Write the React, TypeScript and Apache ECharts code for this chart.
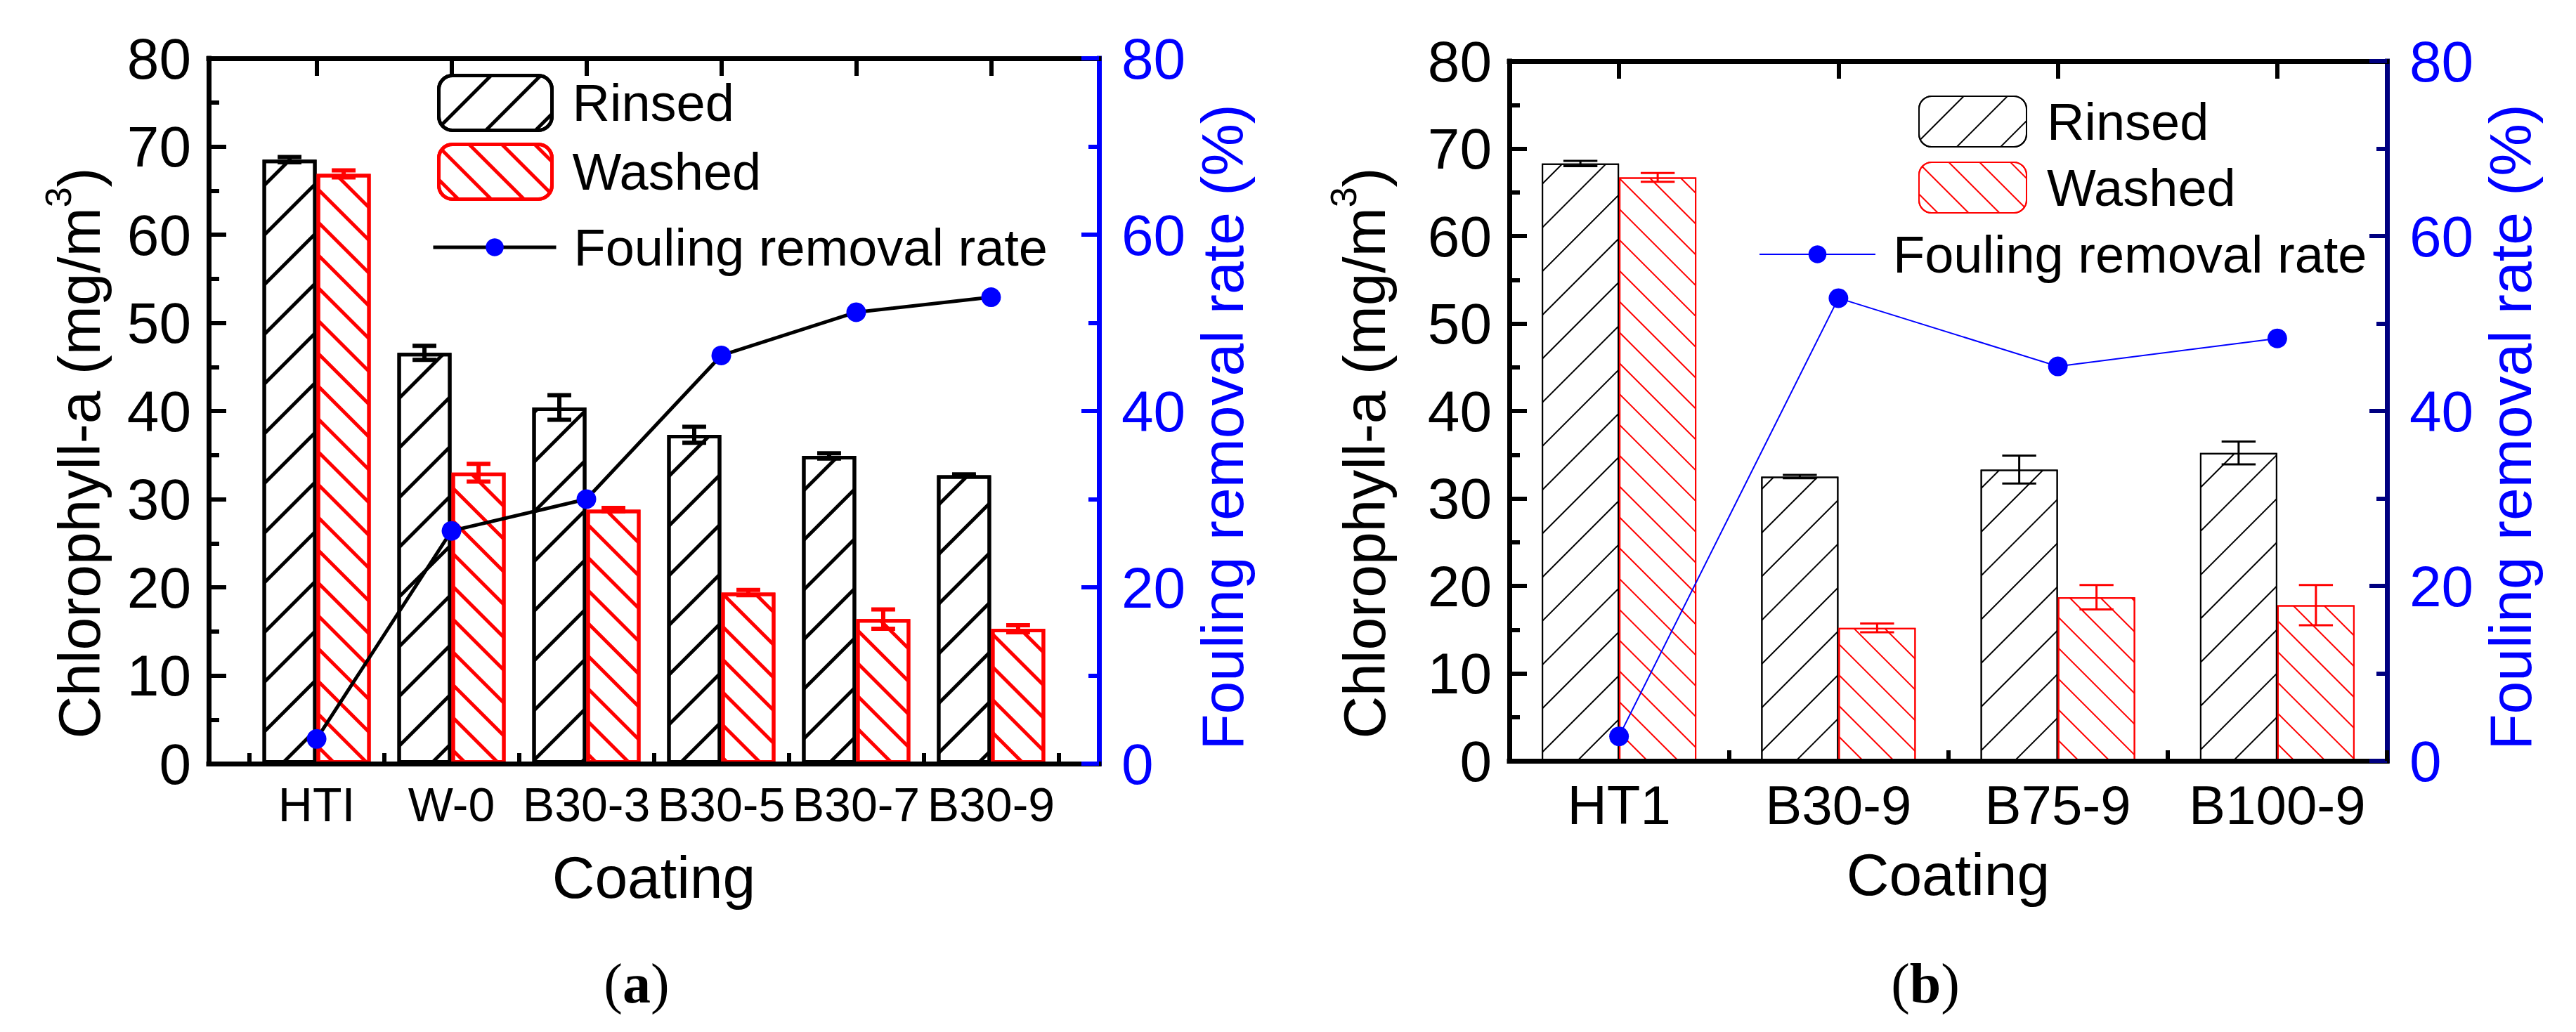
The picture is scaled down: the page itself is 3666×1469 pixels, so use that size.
import { useEffect, useRef } from 'react';
import * as echarts from 'echarts';

// panel (a)
const categoriesA = ['HTI', 'W-0', 'B30-3', 'B30-5', 'B30-7', 'B30-9'];
const rinsedA = [68.5, 46.6, 40.4, 37.3, 34.9, 32.7];
const rinsedErrA = [0.3, 0.8, 1.4, 0.9, 0.3, 0.1];
const washedA = [66.9, 33.0, 28.8, 19.4, 16.4, 15.3];
const washedErrA = [0.4, 1.0, 0.2, 0.3, 1.1, 0.4];
const rateA = [2.8, 26.4, 30.0, 46.3, 51.2, 52.9];

// panel (b)
const categoriesB = ['HT1', 'B30-9', 'B75-9', 'B100-9'];
const rinsedB = [68.3, 32.5, 33.3, 35.2];
const rinsedErrB = [0.3, 0.2, 1.6, 1.3];
const washedB = [66.7, 15.2, 18.7, 17.8];
const washedErrB = [0.5, 0.5, 1.4, 2.3];
const rateB = [2.8, 52.9, 45.1, 48.3];

const FONT = 'Liberation Sans, Arial, sans-serif';
const RED = '#FF0000';
const BLUE = '#0000FF';

interface Layout {
  left: number;
  top: number;
  width: number;
  height: number;
  pad: number; // extra category steps outside the half-step padding
  barWidth: number;
  border: number;
  hatchBlack: [number, number];
  hatchRed: [number, number];
  lineColor: string;
  lineWidth: number;
  rightAxisColor: string;
  catFont: number;
  leftNameGap: number;
  rightNameGap: number;
  legendLeft: number;
  legendTop: number;
  legendW: number;
  legendH: number;
  legendGap: number;
  lineLegendLeft: number;
  lineLegendY: number;
  lineLegendW: number;
  tagX: number;
}

interface Props {
  tag: string;
  categories: string[];
  rinsed: number[];
  rinsedErr: number[];
  washed: number[];
  washedErr: number[];
  rate: number[];
  layout: Layout;
}

function Panel({ tag, categories, rinsed, rinsedErr, washed, washedErr, rate, layout: L }: Props) {
  const chartRef = useRef<HTMLDivElement>(null);

  useEffect(() => {
    if (!chartRef.current) return;
    const chart = echarts.init(chartRef.current, null, { renderer: 'svg' });

    const n = categories.length;
    const step = L.width / (n + 2 * L.pad);
    const inset = L.pad * step;

    const hatch = (color: string, [lw, gap]: [number, number], rot: number) => ({
      symbol: 'rect',
      symbolSize: 1,
      dashArrayX: [1, 0],
      dashArrayY: [lw, gap],
      rotation: rot,
      color,
      backgroundColor: '#fff',
    });

    const errSeries = (vals: number[], errs: number[], color: string, offset: number) => ({
      type: 'custom',
      xAxisIndex: 2,
      yAxisIndex: 2,
      z: 4,
      silent: true,
      encode: { x: 0, y: [1, 2] },
      data: vals.map((v, i) => [i, v - errs[i], v + errs[i]]),
      renderItem: (_p: any, api: any) => {
        const lo = api.coord([api.value(0), api.value(1)]);
        const hi = api.coord([api.value(0), api.value(2)]);
        const cx = lo[0] + offset;
        const half = L.barWidth * 0.22;
        const style = { stroke: color, lineWidth: L.border + 1 };
        return {
          type: 'group',
          children: [
            { type: 'line', shape: { x1: cx, y1: hi[1], x2: cx, y2: lo[1] }, style },
            { type: 'line', shape: { x1: cx - half, y1: hi[1], x2: cx + half, y2: hi[1] }, style },
            { type: 'line', shape: { x1: cx - half, y1: lo[1], x2: cx + half, y2: lo[1] }, style },
          ],
        };
      },
    });

    const frameLine = () => ({ show: true, onZero: false, lineStyle: { color: '#000', width: 7, cap: 'square' } });
    const tickFont = { fontFamily: FONT, fontSize: 82, color: '#000' };
    const legendText = (padLeft: number) => ({
      fontFamily: FONT,
      fontSize: 74,
      lineHeight: 74,
      color: '#000',
      padding: [0, 0, 0, padLeft],
    });

    chart.setOption({
      animation: false,
      grid: [
        { left: L.left, top: L.top, width: L.width, height: L.height },
        { left: L.left + inset, top: L.top, width: L.width - 2 * inset, height: L.height },
      ],
      legend: [
        {
          data: ['Rinsed', 'Washed'],
          orient: 'vertical',
          left: L.legendLeft,
          top: L.legendTop,
          padding: 0,
          itemWidth: L.legendW,
          itemHeight: L.legendH,
          itemGap: L.legendGap,
          selectedMode: false,
          itemStyle: { borderWidth: L.border },
          textStyle: legendText(24),
        },
        {
          data: ['Fouling removal rate'],
          left: L.lineLegendLeft,
          top: L.lineLegendY - 37,
          padding: 0,
          itemWidth: L.lineLegendW,
          itemHeight: 32,
          selectedMode: false,
          lineStyle: { width: L.lineWidth, color: L.lineColor },
          textStyle: legendText(20),
        },
      ],
      xAxis: [
        {
          gridIndex: 0,
          type: 'value',
          min: 0,
          max: 1,
          z: 10,
          axisLine: frameLine(),
          axisTick: { show: false },
          axisLabel: { show: false },
          splitLine: { show: false },
        },
        {
          gridIndex: 0,
          type: 'value',
          position: 'top',
          min: 0,
          max: 1,
          z: 10,
          axisLine: frameLine(),
          axisTick: { show: false },
          axisLabel: { show: false },
          splitLine: { show: false },
        },
        {
          gridIndex: 1,
          type: 'category',
          data: categories,
          z: 10,
          name: 'Coating',
          nameLocation: 'middle',
          nameGap: 120,
          nameTextStyle: { fontFamily: FONT, fontSize: 84, color: '#000' },
          axisLine: { show: false, onZero: false },
          axisTick: { show: true, inside: true, interval: 0, length: 15, lineStyle: { color: '#000', width: 6 } },
          axisLabel: { interval: 0, fontFamily: FONT, fontSize: L.catFont, color: '#000', margin: 24 },
        },
        {
          gridIndex: 1,
          type: 'category',
          data: categories,
          z: 10,
          axisLine: { show: false, onZero: false },
          axisTick: {
            show: true,
            inside: true,
            interval: 0,
            alignWithLabel: true,
            length: 25,
            lineStyle: { color: '#000', width: 6 },
          },
          axisLabel: { show: false },
        },
      ],
      yAxis: [
        {
          gridIndex: 0,
          type: 'value',
          position: 'left',
          min: 0,
          max: 80,
          interval: 10,
          z: 10,
          name: '{t|Chlorophyll-a (mg/m}{s|3}{t|)}',
          nameLocation: 'middle',
          nameRotate: 90,
          nameGap: L.leftNameGap,
          nameTextStyle: {
            padding: [0, 120, 0, 0],
            rich: {
              t: { fontFamily: FONT, fontSize: 84, color: '#000' },
              s: { fontFamily: FONT, fontSize: 52, color: '#000', verticalAlign: 'top', padding: [0, 0, 60, 0] },
            },
          },
          axisLine: frameLine(),
          axisTick: { inside: true, length: 25, lineStyle: { color: '#000', width: 6 } },
          minorTick: { show: true, splitNumber: 2, length: 15, lineStyle: { color: '#000', width: 6 } },
          axisLabel: { ...tickFont, margin: 25 },
          splitLine: { show: false },
        },
        {
          gridIndex: 0,
          type: 'value',
          position: 'right',
          min: 0,
          max: 80,
          interval: 20,
          z: 10,
          name: 'Fouling removal rate (%)',
          nameLocation: 'middle',
          nameRotate: 90,
          nameGap: L.rightNameGap,
          nameTextStyle: { fontFamily: FONT, fontSize: 84, color: BLUE, padding: [0, 46, 0, 0] },
          axisLine: { show: true, onZero: false, lineStyle: { color: L.rightAxisColor, width: 7, cap: 'square' } },
          axisTick: { inside: true, length: 25, lineStyle: { color: L.rightAxisColor, width: 6 } },
          minorTick: { show: true, splitNumber: 2, length: 15, lineStyle: { color: L.rightAxisColor, width: 6 } },
          axisLabel: { ...tickFont, color: BLUE, margin: 32 },
          splitLine: { show: false },
        },
        { gridIndex: 1, type: 'value', min: 0, max: 80, show: false },
        { gridIndex: 1, type: 'value', min: 0, max: 80, show: false },
      ],
      series: [
        {
          name: 'Rinsed',
          type: 'bar',
          xAxisIndex: 2,
          yAxisIndex: 2,
          barWidth: L.barWidth,
          barGap: '0%',
          data: rinsed,
          itemStyle: {
            color: '#fff',
            borderColor: '#000',
            borderWidth: L.border,
            decal: hatch('#000', L.hatchBlack, -Math.PI / 4),
          },
        },
        {
          name: 'Washed',
          type: 'bar',
          xAxisIndex: 2,
          yAxisIndex: 2,
          barWidth: L.barWidth,
          barGap: '0%',
          data: washed,
          itemStyle: {
            color: '#fff',
            borderColor: RED,
            borderWidth: L.border,
            decal: hatch(RED, L.hatchRed, Math.PI / 4),
          },
        },
        errSeries(rinsed, rinsedErr, '#000', -L.barWidth / 2),
        errSeries(washed, washedErr, RED, L.barWidth / 2),
        {
          name: 'Fouling removal rate',
          type: 'line',
          xAxisIndex: 2,
          yAxisIndex: 3,
          z: 5,
          data: rate,
          symbol: 'circle',
          symbolSize: 28,
          lineStyle: { color: L.lineColor, width: L.lineWidth },
          itemStyle: { color: BLUE },
        },
      ],
      graphic: [
        {
          type: 'text',
          x: L.tagX,
          y: 1400,
          style: {
            text: `{p|(}{b|${tag}}{p|)}`,
            textAlign: 'center',
            textVerticalAlign: 'middle',
            rich: {
              p: { fontFamily: 'Liberation Serif, serif', fontSize: 80, fill: '#000' },
              b: { fontFamily: 'Liberation Serif, serif', fontSize: 80, fontWeight: 'bold', fill: '#000' },
            },
          },
        },
      ],
    });

    return () => {
      chart.dispose();
    };
  }, [tag, categories, rinsed, rinsedErr, washed, washedErr, rate, L]);

  return <div ref={chartRef} style={{ width: 1833, height: 1469 }} />;
}

const layoutA: Layout = {
  left: 297,
  top: 83,
  width: 1267,
  height: 1004,
  pad: 0.3,
  barWidth: 77,
  border: 5,
  hatchBlack: [5, 45],
  hatchRed: [5, 28],
  lineColor: '#000',
  lineWidth: 5,
  rightAxisColor: BLUE,
  catFont: 68,
  leftNameGap: 128,
  rightNameGap: 115,
  legendLeft: 622,
  legendTop: 105,
  legendW: 161,
  legendH: 78,
  legendGap: 15,
  lineLegendLeft: 614,
  lineLegendY: 352,
  lineLegendW: 175,
  tagX: 906,
};

const layoutB: Layout = {
  left: 315,
  top: 87,
  width: 1249,
  height: 996,
  pad: 0,
  barWidth: 110,
  border: 2,
  hatchBlack: [2, 42],
  hatchRed: [2, 29],
  lineColor: BLUE,
  lineWidth: 2,
  rightAxisColor: '#000080',
  catFont: 78,
  leftNameGap: 150,
  rightNameGap: 110,
  legendLeft: 897,
  legendTop: 136,
  legendW: 153,
  legendH: 72,
  legendGap: 20,
  lineLegendLeft: 670,
  lineLegendY: 362,
  lineLegendW: 165,
  tagX: 907,
};

export default function App() {
  useEffect(() => {
    document.body.style.margin = '0';
  }, []);

  return (
    <div style={{ display: 'flex', width: 3666, height: 1469, background: '#fff' }}>
      <Panel
        tag="a"
        categories={categoriesA}
        rinsed={rinsedA}
        rinsedErr={rinsedErrA}
        washed={washedA}
        washedErr={washedErrA}
        rate={rateA}
        layout={layoutA}
      />
      <Panel
        tag="b"
        categories={categoriesB}
        rinsed={rinsedB}
        rinsedErr={rinsedErrB}
        washed={washedB}
        washedErr={washedErrB}
        rate={rateB}
        layout={layoutB}
      />
    </div>
  );
}
